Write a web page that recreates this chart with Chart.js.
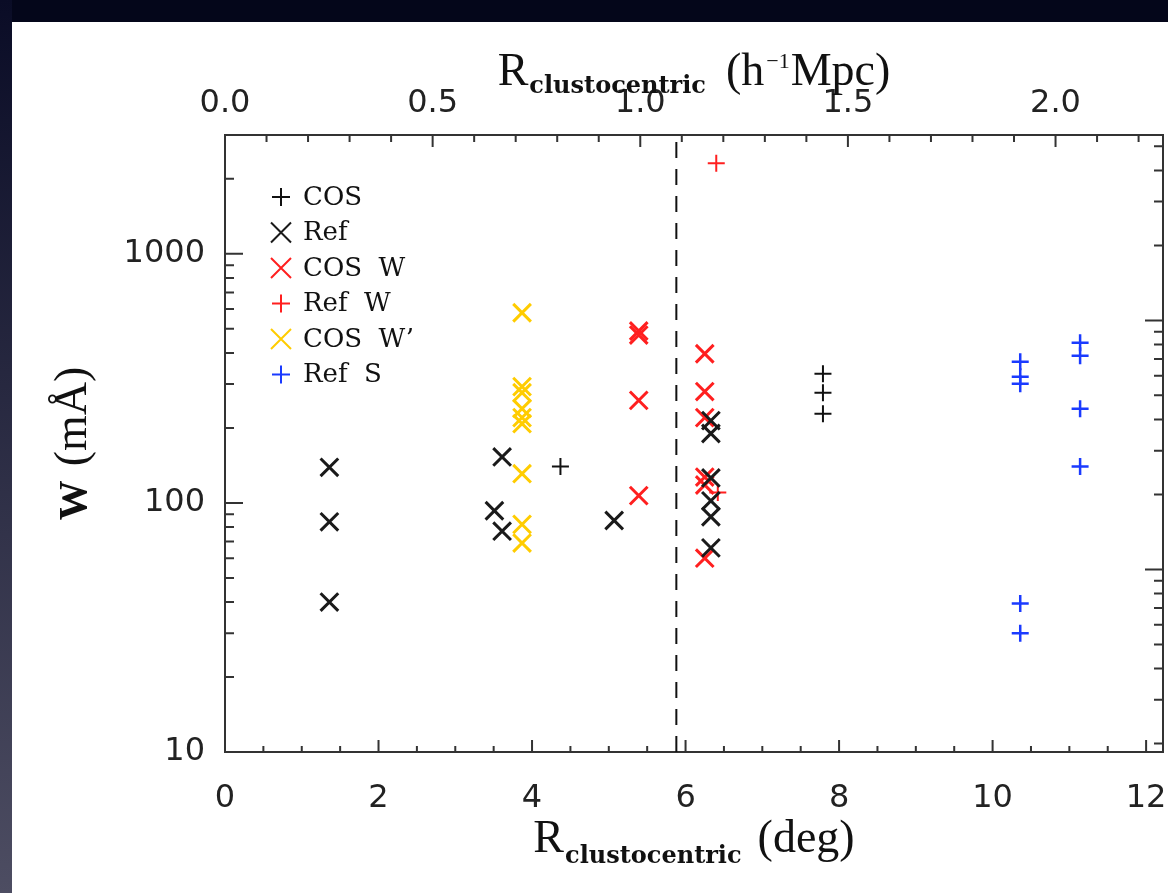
<!DOCTYPE HTML>
<html lang="en">
<head>
<meta charset="UTF-8">
<title>W vs R clustocentric</title>
<style>
    html, body { margin: 0; padding: 0; width: 1168px; height: 893px; overflow: hidden; background: #04061a; }
    #edge { position: absolute; left: 0; top: 0; width: 12px; height: 893px; background: linear-gradient(#0a0c26, #4d4d62); }
    #paper { position: absolute; left: 12px; top: 22px; width: 1156px; height: 871px; background: #fff; }
    #chart { position: absolute; left: 0; top: 0; }
</style>
</head>
<body>
<div id="edge"></div>
<div id="paper"></div>
<canvas id="chart" width="1168" height="893"></canvas>
<script src="https://cdn.jsdelivr.net/npm/chart.js"></script>
<script>
// values: R in deg, W in mA
const cosX = [4.37, 7.79, 7.79, 7.79];
const cosW = [140, 330, 277, 228];
const refX = [1.36, 1.36, 1.36, 3.61, 3.51, 3.61, 5.07, 6.33, 6.33, 6.33, 6.33, 6.33, 6.33];
const refW = [139, 84, 40, 153, 93, 77, 85, 214, 190, 126, 102, 88, 66];
const cosWX = [5.39, 5.39, 5.39, 5.39, 6.25, 6.25, 6.25, 6.25, 6.25, 6.25];
const cosWW = [490, 472, 258, 107, 397, 280, 220, 127, 118, 60];
const refWX = [6.40, 6.42];
const refWW = [2310, 110];
const cosWpX = [3.87, 3.87, 3.87, 3.87, 3.87, 3.87, 3.87, 3.87, 3.87];
const cosWpW = [580, 293, 277, 239, 220, 208, 131, 82, 69];
const refSX = [10.36, 10.36, 10.36, 10.36, 10.36, 11.14, 11.14, 11.14, 11.14];
const refSW = [369, 321, 301, 39.5, 30, 440, 390, 239, 140];

// dashed line position (deg)
const splitX = 5.88;

// axes
const xMin = 0, xMax = 12.22;
const yMin = 10, yMax = 3000;
const degPerMpc = 5.41;          // top axis conversion
const rightAxisFactor = 0.185;   // unlabeled right axis
const xTicks = [0, 2, 4, 6, 8, 10, 12];
const x2Ticks = [0, 0.5, 1.0, 1.5, 2.0];
const yTicks = [10, 100, 1000];

const INK = '#222';
const pts = (xs, ys) => xs.map((x, i) => ({ x: x, y: ys[i] }));

function markerSet(label, xs, ys, style, color, r, lw) {
    return {
        label: label,
        data: pts(xs, ys),
        pointStyle: style,
        pointRadius: r,
        pointHoverRadius: r,
        pointBorderWidth: lw,
        borderColor: color,
        backgroundColor: color,
        showLine: false
    };
}

// inward tick marks (IDL style)
function linTicks(scale, step, majorStep) {
    const out = [];
    for (let v = scale.min; v <= scale.max + 1e-9; v += step) {
        const k = Math.round(v / step) * step;
        out.push({ v: k, major: Math.abs(k / majorStep - Math.round(k / majorStep)) < 1e-6 });
    }
    return out;
}
function logTicks(scale) {
    const out = [];
    for (let e = Math.floor(Math.log10(scale.min)); e <= Math.ceil(Math.log10(scale.max)); e++) {
        for (let m = 1; m <= 9; m++) {
            const v = m * Math.pow(10, e);
            if (v > scale.min * 1.001 && v < scale.max * 0.999) out.push({ v: v, major: m === 1 });
        }
    }
    return out;
}

const tickPlugin = {
    id: 'inwardTicks',
    afterDraw(chart) {
        const ctx = chart.ctx, a = chart.chartArea, s = chart.scales;
        ctx.save();
        ctx.strokeStyle = '#333';
        ctx.lineWidth = 2;
        ctx.beginPath();
        linTicks(s.x, 0.5, 2).forEach(t => {
            const p = s.x.getPixelForValue(t.v);
            if (p <= a.left + 1 || p >= a.right - 1) return;
            ctx.moveTo(p, a.bottom); ctx.lineTo(p, a.bottom - (t.major ? 12 : 6));
        });
        linTicks(s.x2, 0.1, 0.5).forEach(t => {
            const p = s.x2.getPixelForValue(t.v);
            if (p <= a.left + 1 || p >= a.right - 1) return;
            ctx.moveTo(p, a.top); ctx.lineTo(p, a.top + (t.major ? 12 : 7));
        });
        logTicks(s.y).forEach(t => {
            const p = s.y.getPixelForValue(t.v);
            ctx.moveTo(a.left, p); ctx.lineTo(a.left + (t.major ? 18 : 9), p);
        });
        logTicks(s.y2).forEach(t => {
            const p = s.y2.getPixelForValue(t.v);
            ctx.moveTo(a.right, p); ctx.lineTo(a.right - (t.major ? 18 : 9), p);
        });
        ctx.stroke();
        ctx.restore();
    }
};

// legend drawn inside the plot, top left
const legendPlugin = {
    id: 'innerLegend',
    afterDraw(chart) {
        const ctx = chart.ctx;
        const x0 = 281, y0 = 197, dy = 35.5;
        ctx.save();
        ctx.font = '26px "DejaVu Serif"';
        ctx.textBaseline = 'middle';
        ctx.fillStyle = '#111';
        chart.data.datasets.filter(d => d.label).forEach((d, i) => {
            const y = y0 + i * dy;
            ctx.strokeStyle = d.borderColor;
            ctx.lineWidth = 2;
            ctx.beginPath();
            if (d.pointStyle === 'cross') {
                ctx.moveTo(x0 - 9, y); ctx.lineTo(x0 + 9, y);
                ctx.moveTo(x0, y - 9); ctx.lineTo(x0, y + 9);
            } else {
                ctx.moveTo(x0 - 10, y - 10); ctx.lineTo(x0 + 10, y + 10);
                ctx.moveTo(x0 + 10, y - 10); ctx.lineTo(x0 - 10, y + 10);
            }
            ctx.stroke();
            ctx.fillText(d.label, x0 + 22, y + 1);
        });
        ctx.restore();
    }
};

// axis titles with sub/superscripts
function drawPieces(ctx, pieces, cx, baseY) {
    let total = 0;
    pieces.forEach(p => {
        ctx.font = p.font;
        p.w = ctx.measureText(p.text).width;
        total += p.w + (p.gap || 0);
    });
    let x = cx - total / 2;
    pieces.forEach(p => {
        ctx.font = p.font;
        ctx.fillText(p.text, x, baseY + (p.dy || 0));
        x += p.w + (p.gap || 0);
    });
}

const titlePlugin = {
    id: 'axisTitles',
    afterDraw(chart) {
        const ctx = chart.ctx, a = chart.chartArea;
        const big = '46px "Liberation Serif"';
        const sub = 'bold 24px "DejaVu Serif"';
        const cx = (a.left + a.right) / 2;
        ctx.save();
        ctx.fillStyle = '#111';
        ctx.textBaseline = 'alphabetic';
        ctx.textAlign = 'left';
        drawPieces(ctx, [
            { text: 'R', font: big, gap: 1 },
            { text: 'clustocentric', font: sub, dy: 11, gap: 16 },
            { text: '(deg)', font: big }
        ], cx, 852);
        drawPieces(ctx, [
            { text: 'R', font: big, gap: 1 },
            { text: 'clustocentric', font: sub, dy: 8, gap: 20 },
            { text: '(h', font: big, gap: 2 },
            { text: '\u22121', font: '22px "Liberation Serif"', dy: -17, gap: 1 },
            { text: 'Mpc)', font: big }
        ], cx, 85);
        ctx.translate(86, (a.top + a.bottom) / 2);
        ctx.rotate(-Math.PI / 2);
        drawPieces(ctx, [
            { text: 'W', font: 'bold 40px "Liberation Serif"', gap: 14 },
            { text: '(m\u00C5)', font: big }
        ], 0, 0);
        ctx.restore();
    }
};

const tickFont = { family: '"DejaVu Sans"', size: 32 };

// keep the plot box fixed: no extra room for overhanging labels
function noPad(s) {
    s.paddingLeft = 0; s.paddingRight = 0; s.paddingTop = 0; s.paddingBottom = 0;
}

new Chart(document.getElementById('chart'), {
    type: 'scatter',
    data: {
        datasets: [
            markerSet('COS', cosX, cosW, 'cross', '#111', 8.5, 2),
            markerSet('Ref', refX, refW, 'crossRot', '#1a1a1a', 12.5, 3),
            markerSet('COS  W', cosWX, cosWW, 'crossRot', '#ff1f1f', 12.5, 3),
            markerSet('Ref  W', refWX, refWW, 'cross', '#ff1f1f', 8.5, 2),
            markerSet('COS  W\u2019', cosWpX, cosWpW, 'crossRot', '#ffcc00', 12.5, 3),
            markerSet('Ref  S', refSX, refSW, 'cross', '#1a3aff', 8.5, 2.5),
            {
                label: '',
                data: [{ x: splitX, y: yMin }, { x: splitX, y: yMax }],
                showLine: true,
                borderColor: '#111',
                borderWidth: 2,
                borderDash: [16, 11],
                pointRadius: 0
            }
        ]
    },
    options: {
        responsive: false,
        animation: false,
        layout: { padding: 0, autoPadding: false },
        plugins: { legend: { display: false }, tooltip: { enabled: false } },
        scales: {
            x: {
                type: 'linear', position: 'bottom', min: xMin, max: xMax,
                afterBuildTicks: s => { s.ticks = xTicks.map(v => ({ value: v })); },
                afterFit: s => { s.height = 893 - 752; noPad(s); },
                ticks: { font: tickFont, color: INK, padding: 27, maxRotation: 0 },
                grid: { display: false, drawTicks: false },
                border: { display: true, color: '#333', width: 2 }
            },
            x2: {
                type: 'linear', position: 'top', min: xMin / degPerMpc, max: xMax / degPerMpc,
                afterBuildTicks: s => { s.ticks = x2Ticks.map(v => ({ value: v })); },
                afterFit: s => { s.height = 135; noPad(s); },
                ticks: { font: tickFont, color: INK, padding: 12, maxRotation: 0, callback: v => v.toFixed(1) },
                grid: { display: false, drawTicks: false },
                border: { display: true, color: '#333', width: 2 }
            },
            y: {
                type: 'logarithmic', position: 'left', min: yMin, max: yMax,
                afterBuildTicks: s => { s.ticks = yTicks.map(v => ({ value: v })); },
                afterFit: s => { s.width = 225; noPad(s); },
                ticks: { font: tickFont, color: INK, padding: 20, callback: v => String(v) },
                grid: { display: false, drawTicks: false },
                border: { display: true, color: '#333', width: 2 }
            },
            y2: {
                type: 'logarithmic', position: 'right',
                min: yMin * rightAxisFactor, max: yMax * rightAxisFactor,
                afterFit: s => { s.width = 5; noPad(s); },
                ticks: { display: false },
                grid: { display: false, drawTicks: false },
                border: { display: true, color: '#333', width: 2 }
            }
        }
    },
    plugins: [tickPlugin, legendPlugin, titlePlugin]
});
</script>
</body>
</html>
